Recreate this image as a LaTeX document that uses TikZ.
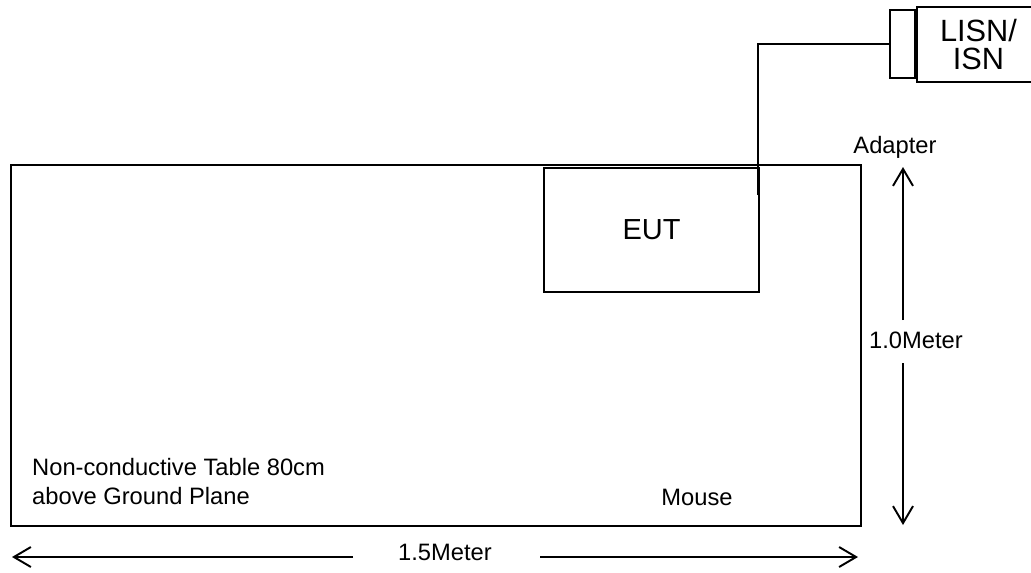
\documentclass[tikz,border=0pt]{standalone}
\usepackage{fontspec}
\setmainfont{Liberation Sans}
\usetikzlibrary{arrows.meta}

\begin{document}
\begin{tikzpicture}[x=0.02cm,y=-0.02cm,>={Straight Barb[length=3.4mm,width=4mm]},
  box/.style={draw,line width=0.9pt,inner sep=0pt},
  lbl/.style={font=\fontsize{13.5}{15}\selectfont},
  big/.style={font=\fontsize{16.5}{18}\selectfont,align=center},
  dim/.style={->,line width=1.1pt}]
  \useasboundingbox (0,0) rectangle (1031,572);
  % table
  \draw[line width=1.2pt] (11,165) rectangle (861,526);
  \node[lbl,anchor=west] (tab1) at (26,467) {Non-conductive Table 80cm};
  \node[lbl,anchor=west] (tab2) at (26,496) {above Ground Plane};
  \node[lbl] (mouse) at (697,497) {Mouse};
  % EUT and LISN
  \node[box,big,minimum width=4.3cm,minimum height=2.48cm] (eut) at (651.5,230) {EUT};
  \node[box,minimum width=0.5cm,minimum height=1.36cm] (plug) at (902.5,44) {};
  \node[box,big,font=\fontsize{17.5}{18}\selectfont,minimum width=2.46cm,minimum height=1.5cm] (lisn) at (978.5,44.5) {LISN/\\[-2pt]ISN};
  \coordinate (cab) at (758,195);
  \draw[line width=0.8pt] (cab) |- (plug.west);
  \node[lbl] (adapter) at (895,147) {Adapter};
  % dimensions
  \node[lbl] (hgt) at (916,340) {1.0Meter};
  \coordinate (ht) at (903,167);
  \coordinate (hb) at (903,525);
  \draw[dim] (903,320) -- (ht);
  \draw[dim] (903,363) -- (hb);
  \node[lbl] (wid) at (445,552) {1.5Meter};
  \coordinate (wl) at (12,557);
  \coordinate (wr) at (858,557);
  \draw[dim] (353,557) -- (wl);
  \draw[dim] (540,557) -- (wr);
\end{tikzpicture}
\end{document}
